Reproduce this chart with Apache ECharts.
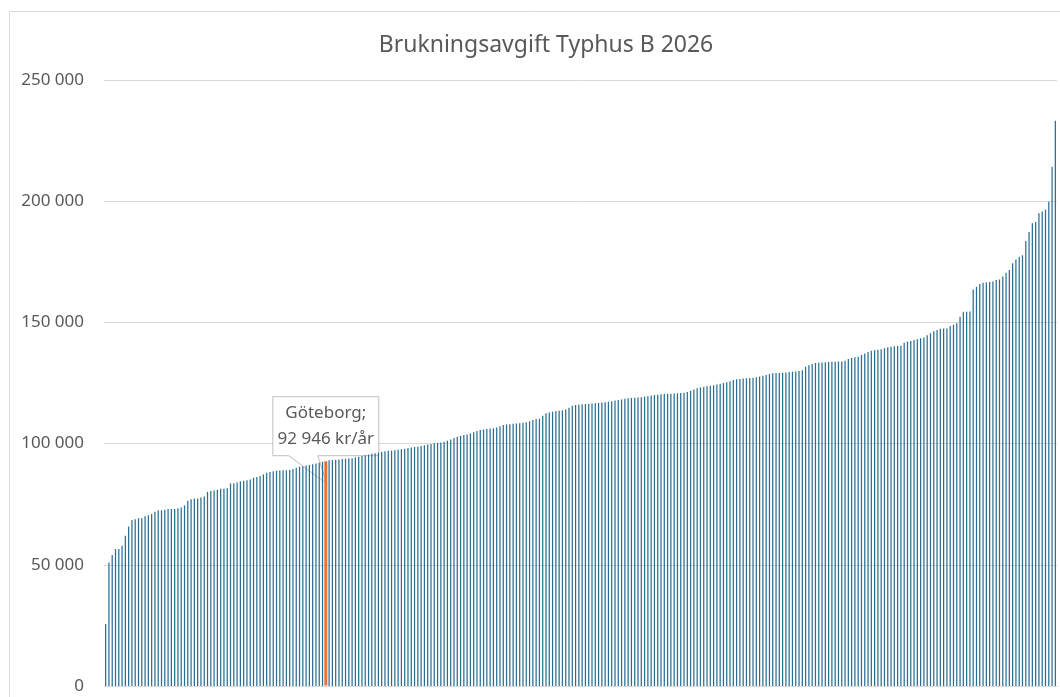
<!DOCTYPE html>
<html>
<head>
<meta charset="utf-8">
<title>Brukningsavgift Typhus B 2026</title>
<script src="https://cdn.jsdelivr.net/npm/echarts@6/dist/echarts.min.js"></script>
<style>
  html, body { margin: 0; padding: 0; background: #fff; overflow: hidden; }
  #main { width: 1060px; height: 697px; }
</style>
</head>
<body>
<div id="main"></div>
<script>
var titelText = 'Brukningsavgift Typhus B 2026';

// brukningsavgift per kommun, sorterad (kr/år)
var avgifter = [
  25600, 51000, 54000, 56500, 56500, 57900, 62000, 65800, 68500, 68800,
  69200, 69200, 70000, 70400, 71000, 71900, 72500, 72500, 72700, 73000,
  73000, 73000, 73300, 73600, 74500, 76400, 77000, 77300, 77300, 77800,
  78200, 80100, 80400, 80700, 81000, 81400, 81400, 81600, 83600, 83600,
  84000, 84400, 84700, 84900, 85200, 85900, 86200, 86600, 87300, 88000,
  88300, 88600, 88800, 88900, 89000, 89000, 89100, 89500, 90000, 90500,
  90700, 91000, 91200, 91500, 91800, 92100, 92500, 92946, 93100, 93200,
  93300, 93400, 93600, 93700, 93900, 94000, 94300, 94600, 94900, 95200,
  95500, 95800, 96000, 96300, 96500, 96800, 97000, 97100, 97300, 97500,
  97700, 97900, 98200, 98400, 98600, 98700, 99000, 99300, 99600, 99800,
  100100, 100300, 100500, 100800, 101200, 101700, 102300, 102800, 103200, 103500,
  103800, 104200, 104700, 105200, 105600, 105800, 106000, 106200, 106300, 106600,
  107200, 107700, 107900, 108000, 108200, 108300, 108400, 108600, 108800, 109200,
  109700, 110100, 110300, 111500, 112500, 112800, 113100, 113400, 113600, 113800,
  114100, 114800, 115600, 115900, 116000, 116200, 116300, 116400, 116500, 116600,
  116800, 117000, 117100, 117300, 117500, 117800, 118000, 118200, 118500, 118700,
  118800, 118900, 119000, 119100, 119300, 119500, 119800, 120000, 120200, 120400,
  120500, 120600, 120600, 120700, 120800, 120900, 121000, 121300, 121800, 122300,
  122800, 123100, 123400, 123700, 123900, 124100, 124400, 124700, 125000, 125300,
  125700, 126200, 126500, 126700, 126900, 127000, 127100, 127200, 127400, 127700,
  128000, 128300, 128700, 129000, 129100, 129100, 129200, 129300, 129500, 129600,
  129700, 130000, 130300, 131700, 132300, 132800, 133200, 133400, 133500, 133600,
  133700, 133800, 133800, 133900, 133900, 134200, 134900, 135300, 135600, 135800,
  136500, 137200, 137800, 138300, 138500, 138700, 138900, 139300, 139700, 140000,
  140200, 140300, 140400, 141600, 142000, 142300, 142700, 143000, 143500, 143800,
  144700, 145500, 146300, 146900, 147400, 147500, 147500, 148500, 149000, 149600,
  152300, 154400, 154400, 154500, 163600, 164700, 165800, 166400, 166500, 166700,
  166900, 167500, 167700, 168900, 170500, 171600, 174400, 176000, 177100, 177700,
  183600, 187300, 190900, 191400, 195000, 195700, 196500, 199800, 214200, 233200
];

var markeradKommun = 'Göteborg';
var markeradIndex = 67;
var kommuner = avgifter.map(function (v, i) {
  return i === markeradIndex ? markeradKommun : 'Kommun ' + (i + 1);
});
var yTicks = [0, 50000, 100000, 150000, 200000, 250000];

var textFarg = '#595959';
var font = '"Noto Sans", "DejaVu Sans", sans-serif';

function tusental (v) {
  return String(Math.round(v)).replace(/\B(?=(\d{3})+(?!\d))/g, ' ');
}

var myChart = echarts.init(document.getElementById('main'), null, { renderer: 'canvas' });

var option = {
  animation: false,
  backgroundColor: '#fff',
  title: {
    text: titelText,
    left: 541,
    top: 29,
    textAlign: 'center',
    textStyle: { color: textFarg, fontSize: 23, fontWeight: 'normal', fontFamily: font }
  },
  grid: { left: 104, right: 3, top: 80, bottom: 11 },
  xAxis: {
    type: 'category',
    data: kommuner,
    axisLabel: { show: false },
    axisTick: { show: false },
    axisLine: { lineStyle: { color: '#D9D9D9', width: 1 } }
  },
  yAxis: {
    type: 'value',
    min: yTicks[0],
    max: yTicks[yTicks.length - 1],
    interval: yTicks[1] - yTicks[0],
    axisLine: { show: false },
    axisTick: { show: false },
    axisLabel: {
      color: textFarg,
      fontSize: 17,
      fontFamily: font,
      margin: 20,
      formatter: tusental
    },
    splitLine: { lineStyle: { color: '#D9D9D9', width: 1 } }
  },
  series: [
    {
      name: 'Brukningsavgift',
      type: 'bar',
      barWidth: '38%',
      itemStyle: { color: '#2A6F90' },
      emphasis: { disabled: true },
      data: avgifter.map(function (v, i) {
        if (i === markeradIndex) {
          return {
            value: v,
            itemStyle: { color: '#E97132', borderColor: '#E97132', borderWidth: 3 }
          };
        }
        return v;
      })
    }
  ]
};
myChart.setOption(option);

// pratbubbla for Göteborg, placerad fran stapelns pixelposition
var p = myChart.convertToPixel({ gridIndex: 0 }, [markeradIndex, avgifter[markeradIndex]]);
var cx = p[0], ty = p[1];
var L = -53, R = 53, T = -64, B = -5;
myChart.setOption({
  graphic: [
    {
      type: 'rect',
      silent: true,
      z: 0,
      shape: { x: 9.5, y: 11.5, width: 1300, height: 900 },
      style: { fill: null, stroke: '#D9D9D9', lineWidth: 1 }
    },
    {
      type: 'group',
      x: cx,
      y: ty,
      z: 100,
      children: [
        {
          type: 'polygon',
          shape: {
            points: [[L, T], [R, T], [R, B], [-8, B], [1, 23], [-37, B], [L, B]]
          },
          style: { fill: '#fff', stroke: '#BFBFBF', lineWidth: 1 }
        },
        {
          type: 'text',
          x: 0,
          y: (T + B) / 2,
          style: {
            text: markeradKommun + ';\n' + tusental(avgifter[markeradIndex]) + ' kr/år',
            fill: textFarg,
            font: '17px ' + font,
            align: 'center',
            verticalAlign: 'middle',
            lineHeight: 26
          }
        }
      ]
    }
  ]
});
</script>
</body>
</html>
